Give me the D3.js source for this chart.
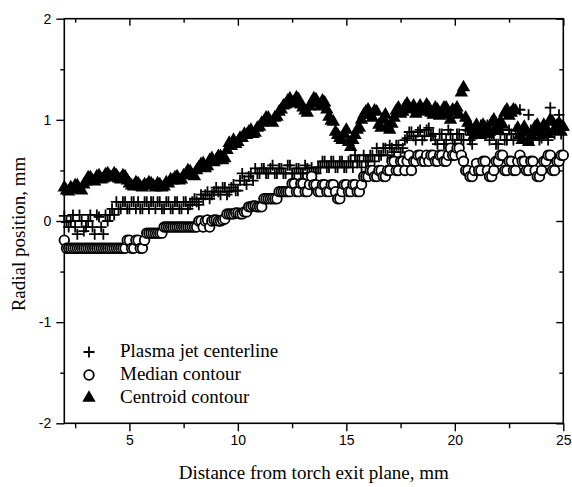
<!DOCTYPE html>
<html>
<head>
<meta charset="utf-8">
<script src="https://cdnjs.cloudflare.com/ajax/libs/d3/7.8.5/d3.min.js"></script>
<style>
  body { margin: 0; background: #fff; }
</style>
</head>
<body>
<div id="grafico"></div>
<script>
// distance from torch exit plane, mm
var distance = [2.0, 2.1, 2.2, 2.3, 2.4, 2.5, 2.6, 2.7, 2.8, 2.9, 3.0, 3.1, 3.2, 3.3, 3.4, 3.5, 3.6, 3.7, 3.8, 3.9,
  4.0, 4.1, 4.2, 4.3, 4.4, 4.5, 4.6, 4.7, 4.8, 4.9, 5.0, 5.1, 5.2, 5.3, 5.4, 5.5, 5.6, 5.7, 5.8, 5.9,
  6.0, 6.1, 6.2, 6.3, 6.4, 6.5, 6.6, 6.7, 6.8, 6.9, 7.0, 7.1, 7.2, 7.3, 7.4, 7.5, 7.6, 7.7, 7.8, 7.9,
  8.0, 8.1, 8.2, 8.3, 8.4, 8.5, 8.6, 8.7, 8.8, 8.9, 9.0, 9.1, 9.2, 9.3, 9.4, 9.5, 9.6, 9.7, 9.8, 9.9,
  10.0, 10.1, 10.2, 10.3, 10.4, 10.5, 10.6, 10.7, 10.8, 10.9, 11.0, 11.1, 11.2, 11.3, 11.4, 11.5, 11.6, 11.7, 11.8, 11.9,
  12.0, 12.1, 12.2, 12.3, 12.4, 12.5, 12.6, 12.7, 12.8, 12.9, 13.0, 13.1, 13.2, 13.3, 13.4, 13.5, 13.6, 13.7, 13.8, 13.9,
  14.0, 14.1, 14.2, 14.3, 14.4, 14.5, 14.6, 14.7, 14.8, 14.9, 15.0, 15.1, 15.2, 15.3, 15.4, 15.5, 15.6, 15.7, 15.8, 15.9,
  16.0, 16.1, 16.2, 16.3, 16.4, 16.5, 16.6, 16.7, 16.8, 16.9, 17.0, 17.1, 17.2, 17.3, 17.4, 17.5, 17.6, 17.7, 17.8, 17.9,
  18.0, 18.1, 18.2, 18.3, 18.4, 18.5, 18.6, 18.7, 18.8, 18.9, 19.0, 19.1, 19.2, 19.3, 19.4, 19.5, 19.6, 19.7, 19.8, 19.9,
  20.0, 20.1, 20.2, 20.3, 20.4, 20.5, 20.6, 20.7, 20.8, 20.9, 21.0, 21.1, 21.2, 21.3, 21.4, 21.5, 21.6, 21.7, 21.8, 21.9,
  22.0, 22.1, 22.2, 22.3, 22.4, 22.5, 22.6, 22.7, 22.8, 22.9, 23.0, 23.1, 23.2, 23.3, 23.4, 23.5, 23.6, 23.7, 23.8, 23.9,
  24.0, 24.1, 24.2, 24.3, 24.4, 24.5, 24.6, 24.7, 24.8, 24.9, 25.0];

// radial position, mm
var centerline = [0.05, -0.01, -0.06, 0.00, 0.06, -0.06, -0.13, 0.06, 0.00, -0.10, -0.06, 0.00, 0.06, -0.06, -0.13, 0.06, 0.04, -0.06, -0.13, 0.06,
  0.00, 0.06, 0.12, 0.06, 0.19, 0.12, 0.12, 0.19, 0.19, 0.12, 0.12, 0.19, 0.19, 0.12, 0.19, 0.12, 0.12, 0.19, 0.19, 0.12,
  0.19, 0.19, 0.12, 0.19, 0.19, 0.12, 0.12, 0.19, 0.19, 0.12, 0.12, 0.19, 0.19, 0.12, 0.12, 0.19, 0.19, 0.12, 0.16, 0.19,
  0.22, 0.19, 0.16, 0.26, 0.22, 0.26, 0.29, 0.22, 0.26, 0.29, 0.33, 0.29, 0.26, 0.33, 0.33, 0.26, 0.29, 0.33, 0.36, 0.30,
  0.30, 0.40, 0.47, 0.40, 0.36, 0.44, 0.47, 0.40, 0.52, 0.47, 0.47, 0.52, 0.52, 0.47, 0.47, 0.52, 0.55, 0.47, 0.47, 0.52,
  0.52, 0.47, 0.47, 0.55, 0.55, 0.47, 0.47, 0.52, 0.52, 0.47, 0.47, 0.55, 0.52, 0.47, 0.53, 0.47, 0.47, 0.53, 0.53, 0.59,
  0.59, 0.53, 0.53, 0.59, 0.59, 0.53, 0.53, 0.59, 0.59, 0.53, 0.53, 0.59, 0.59, 0.53, 0.65, 0.59, 0.59, 0.53, 0.65, 0.59,
  0.59, 0.65, 0.65, 0.59, 0.72, 0.65, 0.65, 0.72, 0.72, 0.65, 0.75, 0.72, 0.68, 0.75, 0.75, 0.68, 0.72, 0.80, 0.82, 0.88,
  0.88, 0.84, 0.80, 0.88, 0.90, 0.80, 0.84, 0.90, 0.92, 0.84, 0.86, 0.80, 0.76, 0.86, 0.86, 0.76, 0.80, 0.90, 0.86, 0.80,
  0.76, 0.86, 0.86, 0.80, 0.80, 0.90, 0.90, 0.80, 0.76, 0.86, 0.86, 0.92, 0.95, 0.89, 0.89, 0.95, 0.80, 0.86, 0.86, 0.76,
  0.76, 0.86, 0.90, 0.80, 0.80, 0.90, 0.86, 0.80, 0.90, 0.86, 1.10, 0.90, 0.86, 0.80, 1.05, 0.90, 0.80, 0.86, 0.90, 0.80,
  0.82, 0.86, 0.90, 0.80, 1.12, 0.90, 0.86, 0.95, 1.05, 0.86, 0.90];

var median = [-0.19, -0.27, -0.27, -0.27, -0.27, -0.27, -0.27, -0.27, -0.27, -0.27, -0.27, -0.27, -0.27, -0.27, -0.27, -0.27, -0.27, -0.27, -0.27, -0.27,
  -0.27, -0.27, -0.27, -0.27, -0.27, -0.27, -0.27, -0.27, -0.27, -0.19, -0.19, -0.27, -0.27, -0.19, -0.19, -0.27, -0.27, -0.19, -0.12, -0.12,
  -0.12, -0.12, -0.12, -0.12, -0.12, -0.12, -0.06, -0.06, -0.06, -0.06, -0.06, -0.06, -0.06, -0.06, -0.06, -0.06, -0.06, -0.06, -0.06, -0.06,
  -0.06, -0.06, 0.00, 0.00, -0.06, 0.00, 0.01, -0.06, 0.00, 0.01, 0.01, 0.00, 0.00, 0.01, 0.02, 0.07, 0.07, 0.07, 0.07, 0.08,
  0.08, 0.07, 0.07, 0.09, 0.09, 0.14, 0.14, 0.15, 0.15, 0.14, 0.14, 0.14, 0.22, 0.22, 0.22, 0.22, 0.22, 0.22, 0.22, 0.29,
  0.29, 0.29, 0.29, 0.29, 0.29, 0.37, 0.37, 0.29, 0.29, 0.37, 0.37, 0.29, 0.29, 0.36, 0.44, 0.36, 0.36, 0.29, 0.29, 0.36,
  0.36, 0.29, 0.29, 0.36, 0.36, 0.29, 0.22, 0.22, 0.29, 0.36, 0.36, 0.29, 0.29, 0.36, 0.36, 0.29, 0.29, 0.36, 0.44, 0.44,
  0.44, 0.50, 0.50, 0.44, 0.44, 0.50, 0.50, 0.44, 0.44, 0.50, 0.50, 0.59, 0.59, 0.50, 0.50, 0.59, 0.59, 0.50, 0.59, 0.65,
  0.50, 0.59, 0.59, 0.65, 0.65, 0.59, 0.59, 0.65, 0.59, 0.65, 0.65, 0.59, 0.59, 0.65, 0.65, 0.59, 0.59, 0.65, 0.72, 0.65,
  0.65, 0.72, 0.72, 0.65, 0.59, 0.50, 0.50, 0.44, 0.44, 0.50, 0.57, 0.50, 0.50, 0.59, 0.59, 0.50, 0.44, 0.44, 0.50, 0.59,
  0.59, 0.65, 0.65, 0.50, 0.50, 0.59, 0.59, 0.50, 0.50, 0.59, 0.65, 0.59, 0.59, 0.50, 0.50, 0.59, 0.59, 0.50, 0.44, 0.44,
  0.50, 0.59, 0.59, 0.65, 0.65, 0.50, 0.50, 0.59, 0.59, 0.65, 0.65];

var centroid = [0.33, 0.30, 0.29, 0.33, 0.31, 0.35, 0.35, 0.31, 0.30, 0.36, 0.39, 0.43, 0.43, 0.40, 0.39, 0.44, 0.45, 0.41, 0.42, 0.46,
  0.47, 0.44, 0.43, 0.47, 0.45, 0.42, 0.41, 0.45, 0.44, 0.40, 0.37, 0.35, 0.34, 0.38, 0.37, 0.34, 0.33, 0.36, 0.35, 0.38,
  0.37, 0.35, 0.33, 0.37, 0.36, 0.33, 0.34, 0.38, 0.37, 0.41, 0.40, 0.43, 0.44, 0.40, 0.41, 0.45, 0.46, 0.50, 0.49, 0.45,
  0.44, 0.50, 0.53, 0.56, 0.57, 0.52, 0.54, 0.60, 0.62, 0.58, 0.60, 0.64, 0.64, 0.60, 0.62, 0.70, 0.77, 0.74, 0.80, 0.76,
  0.78, 0.82, 0.82, 0.86, 0.85, 0.88, 0.90, 0.86, 0.87, 0.92, 0.93, 0.97, 0.98, 1.02, 1.02, 0.98, 0.97, 1.02, 1.03, 1.08,
  1.10, 1.14, 1.15, 1.19, 1.21, 1.16, 1.18, 1.22, 1.20, 1.15, 1.12, 1.09, 1.07, 1.13, 1.17, 1.21, 1.20, 1.16, 1.13, 1.19,
  1.17, 1.10, 1.03, 0.99, 0.98, 0.88, 0.85, 0.82, 0.80, 0.86, 0.90, 0.78, 0.73, 0.80, 0.85, 0.90, 0.92, 1.00, 1.05, 1.08,
  1.10, 1.05, 1.02, 1.09, 1.08, 0.95, 0.92, 1.00, 1.05, 0.94, 0.90, 0.96, 1.02, 1.09, 1.12, 1.06, 1.08, 1.13, 1.16, 1.12,
  1.10, 1.14, 1.06, 1.10, 1.14, 1.09, 1.08, 1.15, 1.12, 1.07, 1.05, 1.12, 1.10, 1.04, 1.07, 1.12, 1.12, 1.05, 1.00, 1.10,
  1.08, 1.12, 1.05, 1.27, 1.32, 1.02, 0.97, 0.92, 0.88, 0.85, 0.95, 0.90, 0.85, 0.95, 0.92, 0.86, 0.88, 0.97, 1.00, 0.93,
  0.90, 0.98, 0.95, 1.07, 1.10, 1.04, 1.07, 1.10, 1.09, 0.92, 0.85, 0.80, 0.93, 0.88, 0.78, 0.84, 0.88, 0.93, 0.95, 0.88,
  0.85, 0.95, 0.92, 0.86, 1.00, 0.98, 0.90, 0.94, 0.97, 0.88, 0.93];

var seriesNames = ["Plasma jet centerline", "Median contour", "Centroid contour"];
var xTicks = [5, 10, 15, 20, 25];
var xMinorTicks = [2.5, 7.5, 12.5, 17.5, 22.5];
var yTicks = [-2, -1, 0, 1, 2];
var yMinorTicks = [-1.5, -0.5, 0.5, 1.5];

var ancho = 572;
var alto = 487;
var margen = { superior: 18.7, derecho: 8.7, inferior: 63.7, izquierdo: 64.3 };
var w = ancho - margen.izquierdo - margen.derecho;
var h = alto - margen.superior - margen.inferior;

var svg = d3.select("#grafico")
  .append("svg")
  .attr("width", ancho)
  .attr("height", alto)
  .style("background", "#fff");

var g = svg.append("g")
  .attr("transform", "translate(" + margen.izquierdo + "," + margen.superior + ")");

var x = d3.scaleLinear().domain([2, 25]).range([0, w]);
var y = d3.scaleLinear().domain([-2, 2]).range([h, 0]);

var plusPath = "M-5.5,0H5.5M0,-5.5V5.5";
var trianglePath = d3.symbol().type(d3.symbolTriangle).size(78)();

// axes: outward ticks bottom/left, inward ticks top/right
function styleAxis(sel) {
  sel.select(".domain").remove();
  sel.selectAll("line").attr("stroke", "#000").attr("stroke-width", 1.4);
  sel.selectAll("text")
    .attr("fill", "#000")
    .style("font-family", "'Liberation Sans', Arial, sans-serif")
    .style("font-size", "14px");
}

g.append("g").attr("transform", "translate(0," + h + ")")
  .call(d3.axisBottom(x).tickValues(xTicks).tickSize(8).tickPadding(4).tickFormat(function (d) { return d; }))
  .call(styleAxis);
g.append("g").attr("transform", "translate(0," + h + ")")
  .call(d3.axisBottom(x).tickValues(xMinorTicks).tickSize(5).tickFormat(""))
  .call(styleAxis);
g.append("g")
  .call(d3.axisLeft(y).tickValues(yTicks).tickSize(8).tickPadding(5).tickFormat(function (d) { return String(d); }))
  .call(styleAxis);
g.append("g")
  .call(d3.axisLeft(y).tickValues(yMinorTicks).tickSize(4).tickFormat(""))
  .call(styleAxis);
g.append("g")
  .call(d3.axisTop(x).tickValues(xTicks).tickSize(-7).tickFormat(""))
  .call(styleAxis);
g.append("g")
  .call(d3.axisTop(x).tickValues(xMinorTicks).tickSize(-4).tickFormat(""))
  .call(styleAxis);
g.append("g").attr("transform", "translate(" + w + ",0)")
  .call(d3.axisRight(y).tickValues(yTicks).tickSize(-7).tickFormat(""))
  .call(styleAxis);
g.append("g").attr("transform", "translate(" + w + ",0)")
  .call(d3.axisRight(y).tickValues(yMinorTicks).tickSize(-4).tickFormat(""))
  .call(styleAxis);

g.append("rect")
  .attr("width", w)
  .attr("height", h)
  .attr("fill", "none")
  .attr("stroke", "#000")
  .attr("stroke-width", 1.6);

// data markers
g.selectAll(".plus")
  .data(centerline)
  .enter().append("path")
  .attr("class", "plus")
  .attr("transform", function (d, i) { return "translate(" + x(distance[i]) + "," + y(d) + ")"; })
  .attr("d", plusPath)
  .attr("fill", "none")
  .attr("stroke", "#000")
  .attr("stroke-width", 1.8);

g.selectAll(".circ")
  .data(median)
  .enter().append("circle")
  .attr("class", "circ")
  .attr("cx", function (d, i) { return x(distance[i]); })
  .attr("cy", function (d) { return y(d); })
  .attr("r", 4.8)
  .attr("fill", "#fff")
  .attr("stroke", "#000")
  .attr("stroke-width", 1.8);

g.selectAll(".tri")
  .data(centroid)
  .enter().append("path")
  .attr("class", "tri")
  .attr("transform", function (d, i) { return "translate(" + x(distance[i]) + "," + y(d) + ")"; })
  .attr("d", trianglePath)
  .attr("fill", "#000");

// legend
var legend = svg.append("g").attr("transform", "translate(89,0)");
var legendY = [352, 375, 398];

legend.append("path").attr("transform", "translate(0," + legendY[0] + ")")
  .attr("d", plusPath).attr("fill", "none").attr("stroke", "#000").attr("stroke-width", 1.8);
legend.append("circle").attr("cx", 0).attr("cy", legendY[1]).attr("r", 4.8)
  .attr("fill", "#fff").attr("stroke", "#000").attr("stroke-width", 1.8);
legend.append("path").attr("transform", "translate(0," + legendY[2] + ")")
  .attr("d", trianglePath).attr("fill", "#000");

legend.selectAll(".etiqueta")
  .data(seriesNames)
  .enter().append("text")
  .attr("class", "etiqueta")
  .attr("x", 31)
  .attr("y", function (d, i) { return legendY[i] + 5; })
  .style("font-family", "'Liberation Serif', 'Times New Roman', serif")
  .style("font-size", "19px")
  .attr("fill", "#000")
  .text(function (d) { return d; });

// axis titles
svg.append("text")
  .attr("x", margen.izquierdo + w / 2)
  .attr("y", 479)
  .attr("text-anchor", "middle")
  .style("font-family", "'Liberation Serif', 'Times New Roman', serif")
  .style("font-size", "19px")
  .attr("fill", "#000")
  .text("Distance from torch exit plane, mm");

svg.append("text")
  .attr("transform", "translate(25,234) rotate(-90)")
  .attr("text-anchor", "middle")
  .style("font-family", "'Liberation Serif', 'Times New Roman', serif")
  .style("font-size", "19px")
  .attr("fill", "#000")
  .text("Radial position, mm");
</script>
</body>
</html>
